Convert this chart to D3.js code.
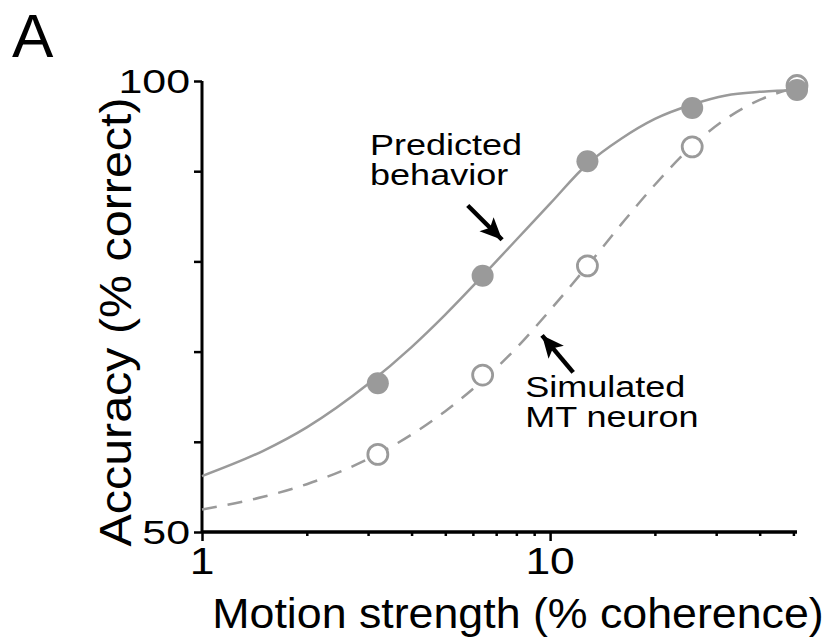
<!DOCTYPE html>
<html>
<head>
<meta charset="utf-8">
<script src="https://cdn.jsdelivr.net/npm/d3@7"></script>
<style>
  html, body { margin: 0; padding: 0; background: #fff; }
  svg { display: block; }
  text { font-family: "Liberation Sans", Arial, Helvetica, sans-serif; fill: #000; }
</style>
</head>
<body>
<svg id="chart" width="834" height="641"></svg>
<script>
// ---------- data ----------
const coherence = [3.2, 6.4, 12.8, 25.6, 51.2];
const predictedBehavior = [66.5, 78.4, 91.1, 97.0, 99.0];   // filled circles
const simulatedNeuron   = [58.6, 67.4, 79.5, 92.7, 99.5];   // open circles

// fitted curves
const curveX        = [1, 1.5, 2, 3, 4, 5, 6.4, 8, 10, 12.8, 16, 20, 25.6, 32, 40, 51.2];
const behaviorCurve = [56.2, 59.0, 61.6, 66.4, 70.5, 74.1, 78.4, 82.4, 86.4, 90.8, 93.6, 95.8, 97.4, 98.4, 98.8, 99.0];
const neuronCurve   = [52.5, 53.9, 55.3, 58.1, 60.8, 63.4, 66.8, 70.4, 74.6, 79.5, 84.1, 88.5, 92.8, 95.8, 97.9, 99.3];

const xMajorTicks = [1, 10];
const xMinorTicks = [2, 3, 4, 5, 6, 7, 8, 9, 20, 30, 40, 50];
const yTicks = [50, 60, 70, 80, 90, 100];
const yTickLabels = [50, 100];

const xTitle = "Motion strength (% coherence)";
const yTitle = "Accuracy (% correct)";
const panelLabel = "A";

// annotations in data coordinates [coherence, accuracy]
const annotations = [
  { lines: ["Predicted", "behavior"], at: [3.04, 91.8], arrowFrom: [5.80, 86.2], arrowTo: [7.28, 82.4] },
  { lines: ["Simulated", "MT neuron"], at: [8.48, 65.0], arrowFrom: [11.65, 67.7], arrowTo: [9.48, 71.8] }
];

// ---------- layout ----------
const svg = d3.select("#chart");
const x = d3.scaleLog().domain([1, 51.2]).range([202, 797]);
const y = d3.scaleLinear().domain([50, 100]).range([532, 81]);
const grey = "#9a9a9a";

// helper for horizontally stretched text
function stext(g, tx, ty, str, size, sx, anchor, rot) {
  const t = g.append("g")
    .attr("transform", `translate(${tx},${ty})` + (rot ? ` rotate(${rot})` : "") + ` scale(${sx},1)`);
  t.append("text").attr("font-size", size).attr("text-anchor", anchor || "start").text(str);
  return t;
}

// ---------- axes ----------
const xAxisMajor = d3.axisBottom(x).tickValues(xMajorTicks).tickSize(9).tickFormat("");
const xAxisMinor = d3.axisBottom(x).tickValues(xMinorTicks).tickSize(4).tickFormat("");
const gx = svg.append("g").attr("transform", `translate(0,${y(50)})`);
gx.call(xAxisMajor);
gx.append("g").call(xAxisMinor);
gx.selectAll(".domain").attr("stroke", "#000").attr("stroke-width", 3).attr("d", `M${x(1)},0H${x(51.2)}`);
gx.selectAll(".tick line").attr("stroke", "#000").attr("stroke-width", 2.5);

const yAxis = d3.axisLeft(y).tickValues(yTicks).tickSize(8).tickFormat("");
const gy = svg.append("g").attr("transform", `translate(${x(1)},0)`).call(yAxis);
gy.selectAll(".domain").attr("stroke", "#000").attr("stroke-width", 3).attr("d", `M0,${y(100)}V${y(50)}`);
gy.selectAll(".tick line").attr("stroke", "#000").attr("stroke-width", 2.5);

// tick labels
const labG = svg.append("g");
xMajorTicks.forEach(v => stext(labG, x(v), 574, String(v), 37, 1.2, "middle"));
yTickLabels.forEach(v => stext(labG, x(1) - 12, y(v) + 12, String(v), 33, 1.3, "end"));

// titles
stext(labG, 518, 628, xTitle, 43, 1.04, "middle");
stext(labG, 131, 322, yTitle, 44, 1.1, "middle", -90);
stext(labG, 12, 57, panelLabel, 62, 1.0, "start");

// ---------- curves ----------
const line = d3.line().x(d => x(d[0])).y(d => y(d[1])).curve(d3.curveMonotoneX);
svg.append("path")
  .datum(curveX.map((c, i) => [c, behaviorCurve[i]]))
  .attr("d", line).attr("fill", "none").attr("stroke", grey).attr("stroke-width", 2.5);
svg.append("path")
  .datum(curveX.map((c, i) => [c, neuronCurve[i]]))
  .attr("d", line).attr("fill", "none").attr("stroke", grey).attr("stroke-width", 2.5)
  .attr("stroke-dasharray", "15,11");

// ---------- points ----------
svg.append("g").selectAll("circle")
  .data(coherence.map((c, i) => [c, simulatedNeuron[i]]))
  .join("circle")
  .attr("cx", d => x(d[0])).attr("cy", d => y(d[1])).attr("r", 10)
  .attr("fill", "#fff").attr("stroke", grey).attr("stroke-width", 2.8);
svg.append("g").selectAll("circle")
  .data(coherence.map((c, i) => [c, predictedBehavior[i]]))
  .join("circle")
  .attr("cx", d => x(d[0])).attr("cy", d => y(d[1])).attr("r", 11)
  .attr("fill", grey);

// ---------- annotations ----------
svg.append("defs").append("marker")
  .attr("id", "arrowhead").attr("markerUnits", "userSpaceOnUse")
  .attr("markerWidth", 26).attr("markerHeight", 22)
  .attr("refX", 22).attr("refY", 10).attr("orient", "auto")
  .append("path").attr("d", "M0,0L22,10L0,20L5,10Z").attr("fill", "#000");

const annG = svg.append("g");
annotations.forEach(a => {
  const [x0, y0] = [x(a.arrowFrom[0]), y(a.arrowFrom[1])];
  const [x1, y1] = [x(a.arrowTo[0]), y(a.arrowTo[1])];
  annG.append("line")
    .attr("x1", x0).attr("y1", y0).attr("x2", x1).attr("y2", y1)
    .attr("stroke", "#000").attr("stroke-width", 4.5).attr("marker-end", "url(#arrowhead)");
  const g = annG.append("g")
    .attr("transform", `translate(${x(a.at[0])},${y(a.at[1])}) scale(1.2,1)`);
  const t = g.append("text").attr("font-size", 30);
  a.lines.forEach((s, i) => t.append("tspan").attr("x", 0).attr("dy", i === 0 ? 0 : 30).text(s));
});
</script>
</body>
</html>
